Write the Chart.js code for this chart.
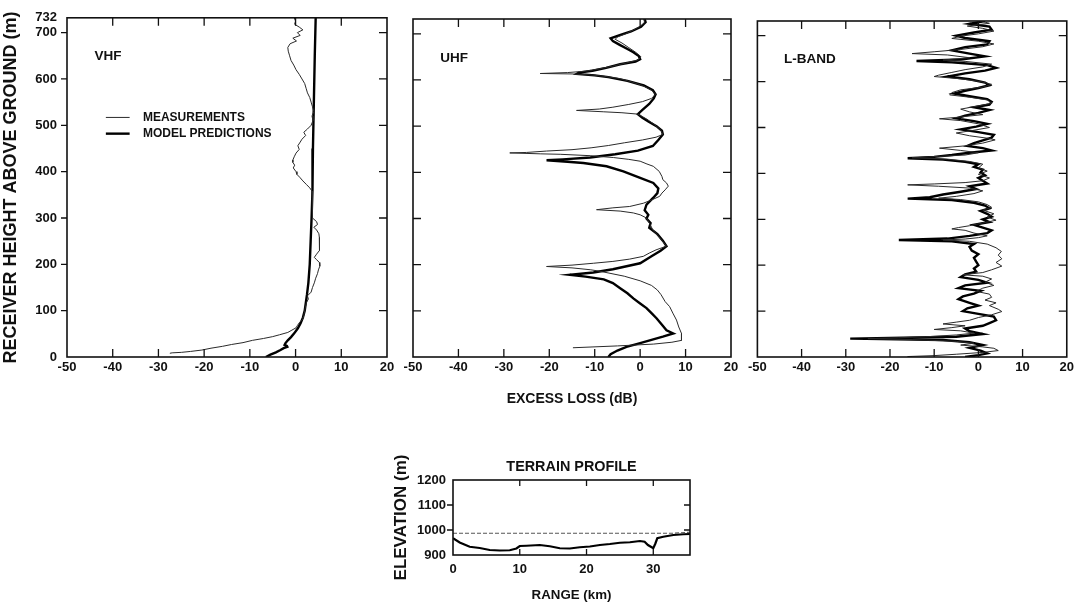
<!DOCTYPE html>
<html>
<head>
<meta charset="utf-8">
<script src="https://cdn.jsdelivr.net/npm/chart.js@4.4.0/dist/chart.umd.min.js"></script>
<style>
  body { margin: 0; background: #fff; width: 1077px; height: 606px; overflow: hidden; position: relative; }
  .box { position: absolute; }
</style>
</head>
<body>
<div class="box" style="left:0;top:0;width:400px;height:385px"><canvas id="vhf"></canvas></div>
<div class="box" style="left:400px;top:0;width:345px;height:412px"><canvas id="uhf"></canvas></div>
<div class="box" style="left:745px;top:0;width:332px;height:385px"><canvas id="lband"></canvas></div>
<div class="box" style="left:380px;top:450px;width:330px;height:156px"><canvas id="terrain"></canvas></div>
<script>
// --- Axis ticks ---
const lossTicks = [-50, -40, -30, -20, -10, 0, 10, 20];
const heightTicks = [0, 100, 200, 300, 400, 500, 600, 700, 732];
const rangeTicks = [0, 10, 20, 30];
const elevTicks = [900, 1000, 1100, 1200];

// --- VHF (height m, excess loss dB) ---
const vhfMeasH = [732,725,718,712,706,700,694,688,682,676,668,660,650,640,630,620,610,600,590,580,570,560,550,540,530,520,510,500,492,485,478,470,462,456,448,440,432,425,420,414,408,400,394,388,380,372,365,358,350,340,330,320,310,300,292,286,280,274,266,258,250,240,230,222,215,210,204,196,188,180,170,160,150,140,132,125,118,110,100,90,82,75,68,63,58,53,48,44,40,36,31,27,23,19,15,12,10,9,8];
const vhfMeasLoss = [-0.3,0.0,-0.2,0.8,1.6,0.4,1.0,-0.6,0.2,-1.2,-1.7,-1.6,-1.3,-1.0,-0.4,0.1,0.8,1.4,2.0,2.3,2.6,3.1,3.4,3.7,4.0,3.6,3.8,3.4,2.6,1.8,2.2,1.4,0.9,0.5,0.8,0.1,-0.3,-0.6,-0.6,-0.2,-0.5,0.1,0.3,0.9,1.6,2.4,3.1,3.6,3.7,3.6,3.8,3.6,3.7,3.8,4.6,4.8,4.0,4.6,5.1,5.2,5.2,5.3,5.2,4.6,4.1,4.6,5.2,5.3,5.0,4.8,4.4,4.1,3.7,3.4,2.6,2.8,2.4,2.2,2.0,1.8,1.6,0.9,0.4,0.1,-0.8,-1.7,-3.5,-5.0,-7.0,-9.4,-11.5,-14.0,-16.0,-18.5,-20.5,-23.0,-25.0,-27.0,-27.5];
const vhfModelH = [732,650,550,450,360,300,250,200,160,135,100,85,73,62,51,43,36,30,26,24,22,19,15,10,5,0];
const vhfModelLoss = [4.4,4.2,4.0,3.8,3.7,3.5,3.3,3.1,2.8,2.5,2.0,1.6,1.1,0.5,-0.3,-1.0,-1.7,-2.2,-2.4,-1.9,-1.8,-2.6,-3.3,-4.3,-5.5,-6.5];

// --- UHF ---
const uhfMeasH = [732,724,716,708,700,693,688,680,670,660,650,643,637,630,624,619,616,614,613,611,608,603,596,588,578,569,560,553,547,541,537,534,531,529,526,515,503,492,482,476,470,464,458,453,449,446,443,442,440,439,436,432,428,424,418,413,402,391,384,377,370,362,355,348,340,333,326,323,319,316,312,308,301,287,275,262,250,240,232,225,218,212,207,203,199,196,193,189,186,175,165,155,145,135,120,109,95,80,65,51,40,36,32,28,24,20];
const uhfMeasLoss = [0.8,1.0,0.0,-1.5,-3.2,-5.0,-5.5,-4.0,-2.5,-1.0,0.2,-0.5,-3.0,-6.0,-9.0,-12,-16,-22,-15,-11,-8,-4.5,-2,0.5,2.5,3.4,2.5,0.5,-2.5,-6,-9,-14,-8,-4,-0.5,1.5,3.2,4.5,5.0,3.5,0.5,-3.4,-7,-10.8,-15,-20.6,-25,-28.7,-22,-17.6,-11,-5.9,-2.5,0,1.5,2.9,4.2,4.8,5.0,5.8,6.2,5.5,4.8,4.3,2.5,0.7,-2.3,-6,-9.6,-4.4,-1.5,0,1.4,2.2,2.8,4.0,5.0,5.8,3.5,2.0,0.7,-2.3,-6,-10.3,-15,-20.6,-15,-11,-9,-3.5,0,2.5,3.8,4.6,5.5,6.5,7.2,8.0,8.5,9.1,9.0,9.2,7,3,-5,-14.8];
const uhfModelH = [732,725,715,705,697,690,684,676,668,660,652,645,640,634,626,620,616,613,610,606,598,588,578,569,560,548,535,526,518,510,500,490,482,470,457,447,439,432,428,426,423,420,413,402,388,377,365,355,345,330,318,308,300,290,280,266,252,240,230,218,203,190,183,178,174,168,160,149,138,127,116,106,95,84,70,58,51,44,37,30,22,14,6,0];
const uhfModelLoss = [1.0,1.2,0.2,-2.0,-4.5,-6.5,-6.0,-4.5,-3.0,-1.5,-0.3,0.0,-1.0,-4.4,-7.5,-10.5,-13.5,-14.0,-10.0,-7.0,-2.8,0.8,2.8,3.4,3.0,2.0,0.5,-0.5,0.5,1.8,3.6,4.8,5.0,4.0,2.8,-0.5,-5.5,-11,-17,-20.6,-16,-12.5,-7.4,-3.7,0,2.9,4.0,3.8,2.9,1.4,1.0,1.8,1.4,2.3,2.0,3.8,5.0,5.8,4.5,2.5,0.0,-6,-10.3,-15.5,-12,-8,-6,-4.4,-2.8,-1.5,0,1.4,2.5,3.6,4.8,5.8,7.3,5.0,2.5,0,-3,-5,-6.5,-7];

// --- L-band ---
const lbandMeasH = [732,727,721,716,710,704,699,694,688,682,676,670,665,661,658,652,647,644,638,632,626,620,614,611,606,600,594,588,582,576,571,566,560,553,547,540,534,528,522,519,515,508,500,494,488,482,476,473,466,460,455,450,445,440,437,434,431,426,420,412,405,398,390,384,380,377,375,372,368,362,356,350,346,343,338,332,326,320,312,305,298,292,286,282,279,276,270,264,260,257,255,252,246,238,230,222,214,206,198,190,184,179,176,170,163,156,150,143,137,130,124,118,112,104,99,92,86,80,76,72,68,64,60,57,52,48,44,42,40,38,34,30,26,22,19,14,10,6,3,1,0];
const lbandMeasLoss = [0.5,2.5,-2.5,1,3.5,0,-4,-6,0,3.5,1,-4,-10,-15,-7,-2,-8,-3,3,1,-3,-6,-9,-10,-4,0.5,3,1,-4,-6,-6.5,-2,2,3.1,0,-4,-2,1,-5,-8.8,-4,0,2.5,-1,-5,-2,2.5,3.8,1,-3,-8.8,-4,0,-3,-9,-15,-7,-2,1,0,2,0,2.5,1,-3,-10,-16,-9,-2,1,-1,-5,-9,-4,0,2,3,1,3.5,2,4,1,-2,-4.5,-6,-3,-1,2,0,-3,-8,-2,2,4,5.2,4.5,5.3,4,5.3,3,1,-3.5,1,3,1.5,3.5,1,-0.5,2.5,3,1.5,4,2.5,4.5,5.3,3,0,-2,-5,-8,-3,-6,-10,-4,-1,-5,-12,-18,-25,-15,-5,-1,-4,1,3.5,4.5,1,-5,-10,-16,-15];
const lbandModelH = [732,726,720,713,707,700,695,688,681,675,668,661,655,648,645,642,636,630,624,618,611,605,598,592,586,580,574,568,562,556,550,544,538,532,526,520,514,508,502,496,490,484,478,472,466,460,455,450,445,440,436,433,430,425,420,414,408,402,396,390,384,378,372,366,360,354,348,345,342,336,330,324,318,312,306,300,294,288,282,276,270,264,258,255,252,246,240,232,224,216,208,200,193,186,180,174,168,162,156,150,144,138,132,126,118,112,106,100,94,88,80,74,68,62,56,50,44,40,37,32,26,20,14,8,4,0];
const lbandModelLoss = [1.5,-2,2.5,3.0,-1,-5,-3,2.5,2.0,-3,-6,-2,1.5,-4,-14,-6,2,4,1.5,-3,-7,-2,1.5,2.5,0,-3,-5.5,-2,2,3,2.5,-1,2.5,0,-3,-5,-1,2,-0.5,-4,0,3.5,3,1,-1,-2.5,1,3,-2,-6,-10,-16,-8,-3,0,-1,1,0.5,1.5,0,1,2,-2,-0.5,-4,-8,-11,-16,-6,-1,1.5,2.5,0.5,2,3,1,2.5,-1,1,3,2,-2,-7,-18,-6,-1,-2,-1.5,0,-1,-0.5,0,-1,-0.5,-3,-4,0,2,-3,-4.5,0.5,-1,-3.5,-4.5,-2,0,-2.5,-3.5,0,3.5,4,2.5,1,-3,-2,1,-5,-29,-8,-2,1,-2,0.5,2,0,-3];

// --- Terrain profile (range km, elevation m) ---
const terrainRange = [0,1,2.5,4,5.5,7,8.5,9.5,10,11,13,14.5,16,17.5,19,20.5,22,23.5,25,26.5,28,28.7,29.2,29.7,30,30.3,30.6,31.5,33,34.5,35.5];
const terrainElev = [967,950,933,928,920,918,919,926,936,937,940,935,927,926,931,934,940,944,949,951,956,953,940,932,927,945,967,973,980,983,984];
const pathRange = [0, 33, 35.5];
const pathElev = [987, 987, 991];

// --- Shared setup ---
const FONT = '"Liberation Sans", Arial, sans-serif';
Chart.defaults.font.family = FONT;
Chart.defaults.color = '#111';
Chart.defaults.animation = false;
Chart.defaults.plugins.legend.display = false;
Chart.defaults.plugins.tooltip.enabled = false;

const toPts = (xs, ys) => xs.map((v, i) => ({ x: v, y: ys[i] }));
const fixTicks = list => s => { s.ticks = list.map(v => ({ value: v })); };
const plain = v => String(v);

// frame round the plot area + tick marks pointing in
const frame = {
  id: 'frame',
  afterDatasetsDraw(chart, args, o) {
    const { ctx, chartArea: a, scales: { x, y } } = chart;
    const len = o.len || 8;
    ctx.save();
    ctx.strokeStyle = '#111';
    ctx.lineWidth = 1.6;
    ctx.strokeRect(a.left, a.top, a.right - a.left, a.bottom - a.top);
    ctx.lineWidth = 1.3;
    ctx.beginPath();
    (o.xTicks || []).forEach(v => {
      const px = x.getPixelForValue(v);
      ctx.moveTo(px, a.bottom); ctx.lineTo(px, a.bottom - len);
      ctx.moveTo(px, a.top); ctx.lineTo(px, a.top + len);
    });
    (o.yTicks || []).forEach(v => {
      const py = y.getPixelForValue(v);
      ctx.moveTo(a.left, py); ctx.lineTo(o.leftOut ? a.left - 6 : a.left + len, py);
      ctx.moveTo(a.right, py); ctx.lineTo(a.right - len, py);
    });
    ctx.stroke();
    ctx.restore();
  }
};

// band name and legend written in data units
const notes = {
  id: 'notes',
  afterDraw(chart, args, o) {
    const { ctx, scales: { x, y } } = chart;
    ctx.save();
    ctx.fillStyle = '#111';
    ctx.textBaseline = 'middle';
    if (o.label) {
      ctx.font = 'bold 13.5px ' + FONT;
      ctx.fillText(o.label.text, x.getPixelForValue(o.label.x), y.getPixelForValue(o.label.y));
    }
    if (o.legend) {
      ctx.font = 'bold 12px ' + FONT;
      chart.data.datasets.forEach((ds, i) => {
        const py = y.getPixelForValue(o.legend.y[i]);
        ctx.strokeStyle = ds.borderColor;
        ctx.lineWidth = ds.borderWidth;
        ctx.beginPath();
        ctx.moveTo(x.getPixelForValue(o.legend.x0), py);
        ctx.lineTo(x.getPixelForValue(o.legend.x1), py);
        ctx.stroke();
        ctx.fillText(ds.label, x.getPixelForValue(o.legend.tx), py);
      });
    }
    ctx.restore();
  }
};

function profilePanel(id, measH, measLoss, modelH, modelLoss, cfg) {
  return new Chart(document.getElementById(id), {
    type: 'scatter',
    data: {
      datasets: [
        { label: 'MEASUREMENTS', data: toPts(measLoss, measH), borderColor: '#2a2a2a', borderWidth: 1, showLine: true, pointRadius: 0 },
        { label: 'MODEL PREDICTIONS', data: toPts(modelLoss, modelH), borderColor: '#000', borderWidth: 2.4, showLine: true, pointRadius: 0 }
      ]
    },
    options: {
      responsive: true,
      maintainAspectRatio: false,
      layout: { padding: cfg.pad },
      scales: {
        x: {
          min: -50, max: 20,
          afterBuildTicks: fixTicks(lossTicks),
          afterFit: s => { s.height = cfg.xh; },
          grid: { display: false, drawTicks: false },
          border: { display: false },
          ticks: { callback: plain, padding: 3, maxRotation: 0, autoSkip: false, font: { size: 13, weight: 'bold' } },
          title: cfg.xTitle
            ? { display: true, text: cfg.xTitle, font: { size: 14, weight: 'bold' }, padding: { top: 0, bottom: 4 } }
            : { display: false }
        },
        y: {
          min: 0, max: 732,
          display: !!cfg.showY,
          afterBuildTicks: fixTicks(heightTicks),
          afterFit: cfg.showY ? s => { s.width = 67; } : undefined,
          grid: { display: false, drawTicks: false },
          border: { display: false },
          ticks: { callback: plain, padding: 10, autoSkip: false, font: { size: 13, weight: 'bold' } },
          title: { display: !!cfg.showY, text: 'RECEIVER HEIGHT ABOVE GROUND (m)', font: { size: 18, weight: 'bold' }, padding: 0 }
        }
      },
      plugins: {
        frame: { xTicks: [-40, -30, -20, -10, 0, 10], yTicks: [100, 200, 300, 400, 500, 600, 700], len: 8, leftOut: !!cfg.showY },
        notes: { label: { text: cfg.band, x: -44, y: 648 }, legend: cfg.legend }
      }
    },
    plugins: [frame, notes]
  });
}

profilePanel('vhf', vhfMeasH, vhfMeasLoss, vhfModelH, vhfModelLoss, {
  band: 'VHF', showY: true, xh: 28,
  pad: { left: 0, right: 13, top: 17, bottom: 0 },
  legend: { x0: -41.5, x1: -36.3, tx: -33.4, y: [517, 482] }
});
profilePanel('uhf', uhfMeasH, uhfMeasLoss, uhfModelH, uhfModelLoss, {
  band: 'UHF', xh: 55, xTitle: 'EXCESS LOSS (dB)',
  pad: { left: 13, right: 14, top: 19, bottom: 0 }
});
profilePanel('lband', lbandMeasH, lbandMeasLoss, lbandModelH, lbandModelLoss, {
  band: 'L-BAND', xh: 28,
  pad: { left: 10, right: 8, top: 21, bottom: 0 }
});

// --- Terrain profile ---
new Chart(document.getElementById('terrain'), {
  type: 'scatter',
  data: {
    datasets: [
      { data: toPts(pathRange, pathElev), borderColor: '#555', borderWidth: 1.2, borderDash: [4, 2], showLine: true, pointRadius: 0 },
      { data: toPts(terrainRange, terrainElev), borderColor: '#000', borderWidth: 2.2, showLine: true, pointRadius: 0 }
    ]
  },
  options: {
    responsive: true,
    maintainAspectRatio: false,
    layout: { padding: { left: 0, right: 20, top: 0, bottom: 0 } },
    scales: {
      x: {
        min: 0, max: 35.5,
        afterBuildTicks: fixTicks(rangeTicks),
        afterFit: s => { s.height = 51; },
        grid: { display: false, drawTicks: false },
        border: { display: false },
        ticks: { callback: plain, padding: 7, maxRotation: 0, autoSkip: false, font: { size: 13, weight: 'bold' } },
        title: { display: true, text: 'RANGE (km)', font: { size: 13.3, weight: 'bold' }, padding: { top: 0, bottom: 3 } }
      },
      x2: {
        axis: 'x', type: 'linear', position: 'top',
        min: 0, max: 35.5,
        afterFit: s => { s.height = 30; },
        grid: { display: false, drawTicks: false },
        border: { display: false },
        ticks: { display: false },
        title: { display: true, text: 'TERRAIN PROFILE', font: { size: 14.4, weight: 'bold' }, padding: { top: 8, bottom: 0 } }
      },
      y: {
        min: 900, max: 1200,
        afterBuildTicks: fixTicks(elevTicks),
        afterFit: s => { s.width = 73; },
        grid: { display: false, drawTicks: false },
        border: { display: false },
        ticks: { callback: plain, padding: 7, autoSkip: false, font: { size: 13, weight: 'bold' } },
        title: { display: true, text: 'ELEVATION (m)', font: { size: 17, weight: 'bold' }, padding: { top: 11, bottom: 0 } }
      }
    },
    plugins: {
      frame: { xTicks: [10, 20, 30], yTicks: [1000, 1100], len: 6, leftOut: true }
    }
  },
  plugins: [frame]
});
</script>
</body>
</html>
